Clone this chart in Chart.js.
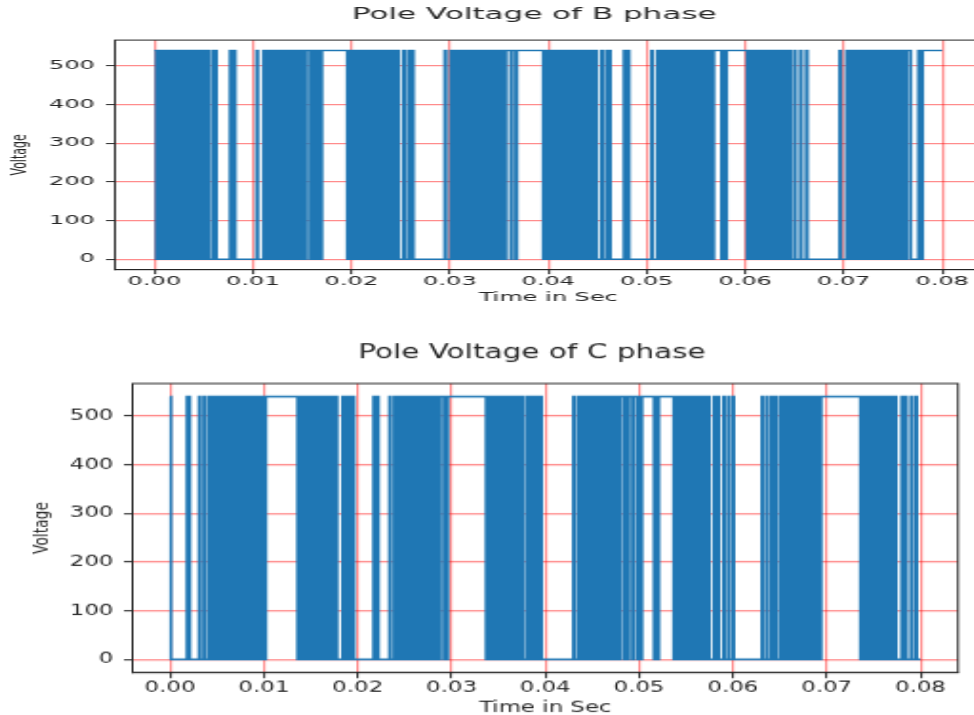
<!DOCTYPE html>
<html>
<head>
<meta charset="utf-8">
<script src="https://cdn.jsdelivr.net/npm/chart.js@4.4.1/dist/chart.umd.min.js"></script>
<style>
  html, body { margin: 0; padding: 0; overflow: hidden; background: #fff; width: 974px; height: 715px; }
  canvas { position: absolute; transform-origin: 0 0; }
  #chartB { left: 0px; top: 0px; transform: scale(2, 1); }
  #chartC { left: 23px; top: 333px; transform: scale(1.905, 1.259); }
</style>
</head>
<body>
<canvas id="chartB" width="500" height="310"></canvas>
<canvas id="chartC" width="500" height="310"></canvas>
<script>
// ---------------- data ----------------
const titleB = "Pole Voltage of B phase";
const titleC = "Pole Voltage of C phase";
const xAxisLabel = "Time in Sec";
const yAxisLabel = "Voltage";
const xTickValues = [0.00, 0.01, 0.02, 0.03, 0.04, 0.05, 0.06, 0.07, 0.08];
const yTickValues = [0, 100, 200, 300, 400, 500];
const dcLevel = 540;          // high level of the pole voltage (V)
const sampleStep = 0.0001;    // one character = 0.1 ms

// switching state per 0.1 ms, one string per millisecond (1 = 540 V, 0 = 0 V)
const phaseB = [
  "1101010101","0101010111","0001010101","0101010101","0101000100","0100100001","0010000000","0000000101","0100000000","0000000000",
  "0000100000","0100010010","1001010101","1010101010","1010101010","1010111101","1101101110","1111111111","1111111111","1111110101",
  "0101010101","0101010101","0101010101","0101010101","0101000100","0001000010","0010000000","0000000000","0000000000","0000010000",
  "0100010001","0001001010","0101010101","0101010101","0101010101","0101110111","1101111011","1111111111","1111111111","1111101010",
  "1010101010","1010101010","1010101010","1010101010","1000100010","0000100001","0010000000","0000000101","0100000000","0000000000",
  "0000010000","0100010010","0101010101","0101010101","0101010101","0101110001","0101011011","1111110101","0111111111","1111111111",
  "1101010101","0101010101","0101010101","0101010101","0100010000","1000001000","0010000000","0000000000","0000000000","0000001000",
  "0001000100","0100101010","1010101010","1010101010","1010101010","1010101110","1110111100","0000001010","1111111111","1111111111"
];
const phaseC = [
  "1000000000","0000000010","1000000000","0100001000","0100010010","0101010101","0101010101","0101010101","1011101110","1110111011",
  "1011111111","1111111111","1111111111","1111110101","0101010101","0101010101","0101010101","0101010100","0000100010","0010010000",
  "0000000000","0000000101","0100000000","0000100001","0001000100","1001001010","0010101010","1010101010","1010101011","1101101111",
  "1111111111","1111111111","1111111111","1111111010","1010101010","1010101010","1010101010","1010010000","1000100010","0010010000",
  "0000000000","0000000000","0000000000","1000010001","0010101010","1010101010","1010101010","1011101110","1111011101","1110111101",
  "1101111111","1111110101","0111111111","1111111010","1010101010","1010101010","1010101010","1010100000","1000100000","1000010000",
  "1000000000","0000000000","0000000000","0100001000","0100010000","1000100101","0010101010","1010101010","1010101010","1010111111",
  "1111111111","1111111111","1111111111","1111110101","0101010101","0101010101","0101010101","0101000000","1000100000","1000010000"
];

// ---------------- build points from the state strings ----------------
function toPoints(groups) {
  const bits = groups.join("");
  const pts = [];
  for (let i = 0; i < bits.length; i++) {
    pts.push({ x: +(i * sampleStep).toFixed(4), y: bits[i] === "1" ? dcLevel : 0 });
  }
  pts.push({ x: +(bits.length * sampleStep).toFixed(4), y: bits[bits.length - 1] === "1" ? dcLevel : 0 });
  return pts;
}

// ---------------- styling ----------------
const FONT = '"DejaVu Sans", "Liberation Sans", sans-serif';
const TEXT = "#262626";
const GRID = "rgba(255,0,0,0.45)";
const LINE = "#1f77b4";

const framePlugin = {
  id: "frame",
  afterDraw(chart) {
    const { ctx, chartArea: a } = chart;
    ctx.save();
    ctx.strokeStyle = TEXT;
    ctx.lineWidth = 1;
    ctx.strokeRect(a.left, a.top, a.right - a.left, a.bottom - a.top);
    ctx.restore();
  }
};

const axesTitlePlugin = {
  id: "axesTitle",
  afterDraw(chart, args, opts) {
    const { ctx, chartArea: a } = chart;
    ctx.save();
    ctx.font = opts.size + "px " + FONT;
    ctx.fillStyle = TEXT;
    ctx.textAlign = "center";
    ctx.textBaseline = "middle";
    ctx.fillText(opts.text, (a.left + a.right) / 2 + opts.dx, opts.y);
    ctx.restore();
  }
};

function makeChart(id, title, groups, titleY) {
  return new Chart(document.getElementById(id), {
    type: "line",
    data: {
      datasets: [{
        data: toPoints(groups),
        borderColor: LINE,
        borderWidth: 1.6,
        pointRadius: 0,
        stepped: true,
        fill: false,
        tension: 0
      }]
    },
    plugins: [framePlugin, axesTitlePlugin],
    options: {
      responsive: false,
      animation: false,
      devicePixelRatio: 1,
      parsing: false,
      normalized: true,
      layout: { padding: { left: 0, top: 40.1, right: 9.2, bottom: 0 } },
      plugins: {
        legend: { display: false },
        tooltip: { enabled: false },
        title: { display: false },
        axesTitle: { text: title, size: 15.5, dx: -7, y: titleY }
      },
      scales: {
        x: {
          type: "linear",
          min: -0.004,
          max: 0.084,
          afterFit(s) { s.height = 40.3; },
          afterBuildTicks(s) { s.ticks = xTickValues.map(v => ({ value: v })); },
          ticks: {
            callback: v => Number(v).toFixed(2),
            font: { family: FONT, size: 12 },
            color: TEXT,
            padding: 0,
            maxRotation: 0,
            autoSkip: false
          },
          grid: { color: GRID, lineWidth: 1.2, tickColor: TEXT, tickLength: 4.5, tickWidth: 1 },
          border: { color: TEXT, width: 1 },
          title: { display: true, text: xAxisLabel, font: { family: FONT, size: 12 }, color: TEXT, padding: { top: 0, bottom: 4.8 } }
        },
        y: {
          type: "linear",
          min: -27,
          max: 567,
          afterFit(s) { s.width = 57.5; },
          afterBuildTicks(s) { s.ticks = yTickValues.map(v => ({ value: v })); },
          ticks: {
            callback: v => String(v),
            font: { family: FONT, size: 12 },
            color: TEXT,
            padding: 5.5,
            autoSkip: false
          },
          grid: { color: GRID, lineWidth: 1.2, tickColor: TEXT, tickLength: 4.5, tickWidth: 1 },
          border: { color: TEXT, width: 1 },
          title: { display: true, text: yAxisLabel, font: { family: FONT, size: 11 }, color: TEXT, padding: { top: 4, bottom: 0 } }
        }
      }
    }
  });
}

makeChart("chartB", titleB, phaseB, 15);
makeChart("chartC", titleC, phaseC, 16.4);
</script>
</body>
</html>
